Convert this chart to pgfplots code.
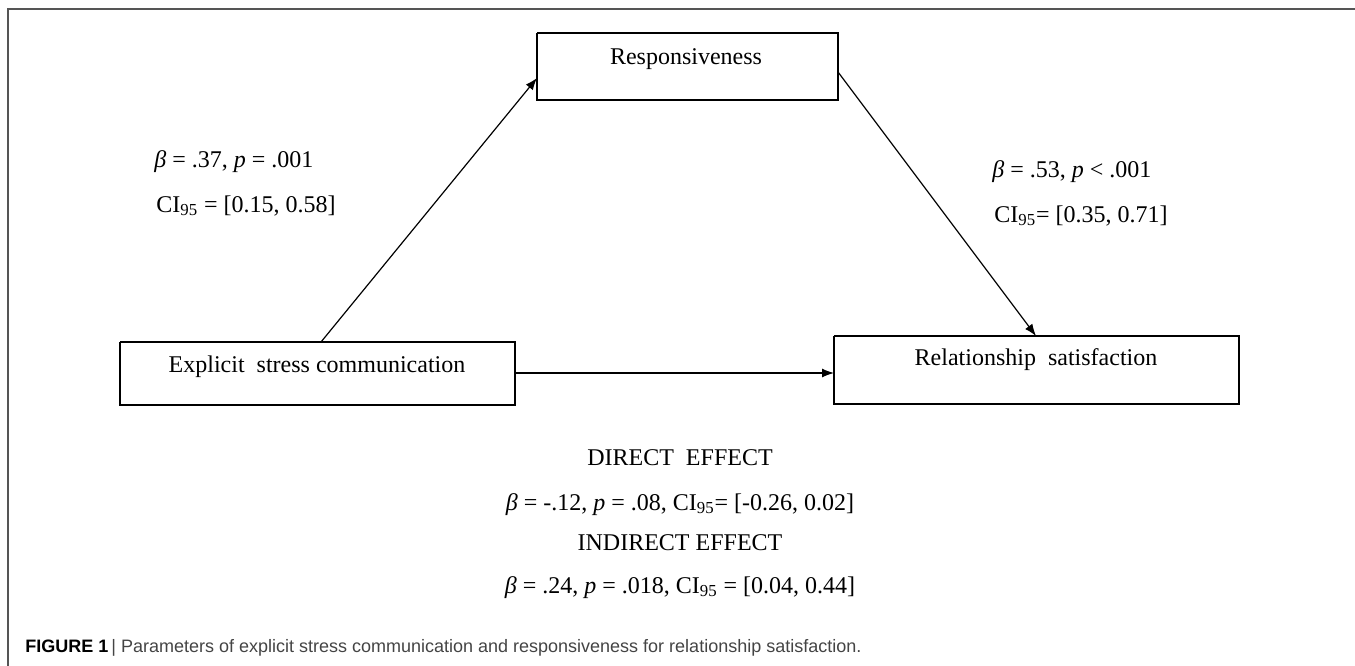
\documentclass[border=0pt]{standalone}
\usepackage{fontspec}
\setmainfont{Liberation Serif}
\newfontfamily\capfont{Liberation Sans}
\usepackage{pgfplots}
\pgfplotsset{compat=1.18}
\usetikzlibrary{arrows.meta}
\definecolor{framegray}{HTML}{555555}
\definecolor{capgray}{HTML}{444444}
\newcommand{\txt}{\fontsize{12bp}{14bp}\selectfont}
\newcommand{\CI}{CI\textsubscript{95}}
\begin{document}
\begin{tikzpicture}
\useasboundingbox (0,0) rectangle (677.5bp,333bp);
\begin{axis}[
  at={(0,0)}, anchor=south west,
  scale only axis, width=677.5bp, height=333bp,
  xmin=0, xmax=1355, ymin=0, ymax=666, y dir=reverse,
  hide axis, clip=false,
]
% frame
\addplot[framegray, line width=0.8bp] coordinates {(8,666) (8,9) (1355,9)};
% boxes
\addplot[black, line width=0.9bp] coordinates {(537,33) (838,33) (838,100) (537,100) (537,33)};
\addplot[black, line width=0.9bp] coordinates {(120,342) (515,342) (515,405) (120,405) (120,342)};
\addplot[black, line width=0.9bp] coordinates {(834,336) (1239,336) (1239,404) (834,404) (834,336)};
% arrows
\addplot[black, line width=0.6bp, -{Latex[length=6bp,width=4.5bp]}] coordinates {(321,342) (537,78)};
\addplot[black, line width=0.6bp, -{Latex[length=6bp,width=4.5bp]}] coordinates {(838,72) (1036,336)};
\addplot[black, line width=0.6bp, -{Latex[length=6bp,width=4.5bp]}] coordinates {(515,373) (834,373)};
% texts
\node[anchor=base, inner sep=0pt] at (axis cs:686,64) {\txt Responsiveness};
\node[anchor=base west, inner sep=0pt] at (axis cs:154,167) {\txt \textit{β} = .37, \textit{p} = .001};
\node[anchor=base west, inner sep=0pt] at (axis cs:156,212) {\txt \CI{} = [0.15, 0.58]};
\node[anchor=base west, inner sep=0pt] at (axis cs:992,177) {\txt \textit{β} = .53, \textit{p} < .001};
\node[anchor=base west, inner sep=0pt] at (axis cs:994,222) {\txt \CI= [0.35, 0.71]};
\node[anchor=base, inner sep=0pt] at (axis cs:317,372) {\txt Explicit\ \ stress communication};
\node[anchor=base, inner sep=0pt] at (axis cs:1036,365) {\txt Relationship\ \ satisfaction};
\node[anchor=base, inner sep=0pt] at (axis cs:680,465) {\txt DIRECT\ \ EFFECT};
\node[anchor=base, inner sep=0pt] at (axis cs:680,510) {\txt \textit{β} = -.12, \textit{p} = .08, \CI= [-0.26, 0.02]};
\node[anchor=base, inner sep=0pt] at (axis cs:680,550) {\txt INDIRECT EFFECT};
\node[anchor=base, inner sep=0pt] at (axis cs:680,593) {\txt \textit{β} = .24, \textit{p} = .018, \CI{} = [0.04, 0.44]};
\node[anchor=base west, inner sep=0pt] at (axis cs:25,652) {\fontsize{9bp}{10bp}\capfont\color{black}\textbf{FIGURE 1}\,\textcolor{capgray}{| Parameters of explicit stress communication and responsiveness for relationship satisfaction.}};
\end{axis}
\end{tikzpicture}
\end{document}
